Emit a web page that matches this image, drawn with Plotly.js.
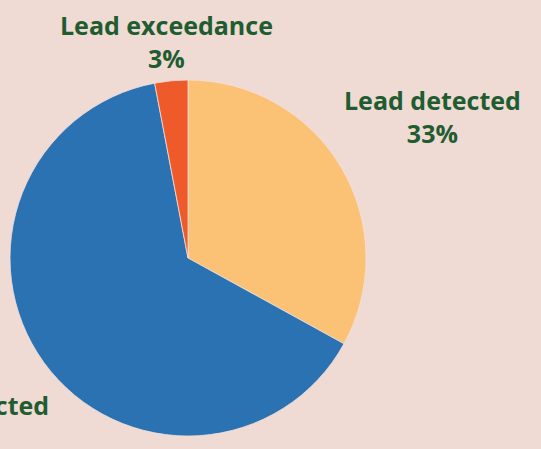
<!DOCTYPE html>
<html>
<head>
<meta charset="utf-8">
<script src="https://cdn.plot.ly/plotly-3.0.1.min.js"></script>
<style>html,body{margin:0;padding:0;background:#EFDAD4;}#chart{width:541px;height:449px;}</style>
</head>
<body>
<div id="chart"></div>
<script>
const labels = ["Lead detected", "Lead not detected", "Lead exceedance"];
const values = [33, 64, 3];
const colors = ["#FBC175", "#2A72B1", "#EE5A2A"];
// label positions (pixels) for the outside annotations
const labelPos = [[432, 116, "center"], [51, 421, "right"], [166.5, 41, "center"]];

const W = 541, H = 449;
const total = values.reduce((a, b) => a + b, 0);
const annotations = labels.map((l, i) => ({
  text: l + "<br>" + Math.round(values[i] / total * 100) + "%",
  x: labelPos[i][0] / W, y: 1 - labelPos[i][1] / H,
  xref: "paper", yref: "paper",
  xanchor: labelPos[i][2], yanchor: "middle",
  showarrow: false, align: "center",
  font: {family: "Open Sans", size: 25, weight: 700, color: "#1F5C30"}
}));

const trace = {
  type: "pie",
  labels: labels,
  values: values,
  sort: false,
  direction: "clockwise",
  rotation: 0,
  textinfo: "none",
  hoverinfo: "none",
  marker: {colors: colors, line: {color: "#F3E1DB", width: 0.8}},
  domain: {x: [10 / W, 366 / W], y: [13 / H, 369 / H]},
  showlegend: false
};

Plotly.newPlot("chart", [trace], {
  width: W, height: H,
  margin: {l: 0, r: 0, t: 0, b: 0},
  paper_bgcolor: "#EFDAD4",
  plot_bgcolor: "#EFDAD4",
  showlegend: false,
  annotations: annotations
}, {displayModeBar: false, staticPlot: true});
</script>
</body>
</html>
